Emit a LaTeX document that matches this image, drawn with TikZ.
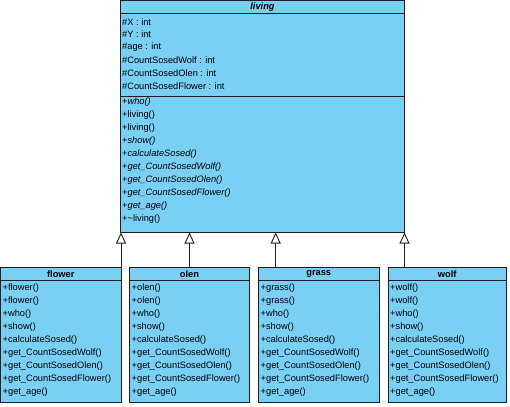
\documentclass[tikz,border=0pt]{standalone}
\usepackage{fontspec}
\setmainfont{Liberation Sans}
\usetikzlibrary{arrows.meta}
\definecolor{umlfill}{RGB}{122,207,245}
\definecolor{umlline}{RGB}{30,30,30}
\tikzset{
  x=1bp, y=-1bp,
  classbox/.style={draw=umlline, fill=umlfill, line width=0.9bp},
  sepline/.style={draw=umlline, line width=0.9bp},
  row/.style={anchor=west, inner sep=0pt, font=\fontsize{9.3}{11}\selectfont},
  ttl/.style={anchor=center, inner sep=0pt, font=\fontsize{9.3}{11}\selectfont\bfseries},
  inherit/.style={draw=umlline, line width=0.9bp, -{Triangle[open, width=10bp, length=11bp, fill=white]}}
}
\begin{document}
\begin{tikzpicture}
\useasboundingbox (0,0) rectangle (510,406);
% living
\path[classbox] (120.5,0.5) rectangle (404.5,232.5);
\draw[sepline] (120.5,13) -- (404.5,13);
\draw[sepline] (120.5,96.5) -- (404.5,96.5);
\node[ttl] (livingT) at (262.5,7) {\itshape living};
\coordinate (livingB) at (262.5,232.5);
\foreach \t [count=\i] in {\#X : int,\#Y : int,\#age : int,\#CountSosedWolf : int,\#CountSosedOlen : int,\#CountSosedFlower : int}
  \node[row] (la\i) at (122,{21.7+(\i-1)*12.9}) {\t};
\foreach \t/\s [count=\i] in {who()/\itshape,living()/,living()/,show()/\itshape,calculateSosed()/\itshape,get\_CountSosedWolf()/\itshape,get\_CountSosedOlen()/\itshape,get\_CountSosedFlower()/\itshape,get\_age()/\itshape,\textasciitilde living()/}
  \node[row] (lo\i) at (122,{102.3+(\i-1)*13}) {+{\s\t}};
% subclasses
\foreach \nm/\xl/\xr/\ax in {flower/0.5/121/121, olen/129.5/249.5/189.5, grass/258.5/379/275.7, wolf/388/506.5/404.5}{
  \path[classbox] (\xl,267) rectangle (\xr,402.5);
  \draw[sepline] (\xl,280) -- (\xr,280);
  \node[ttl] (\nm T) at ({(\xl+\xr)/2},274) {\nm};
  \foreach \t [count=\i] in {\nm(),\nm(),who(),show(),calculateSosed(),get\_CountSosedWolf(),get\_CountSosedOlen(),get\_CountSosedFlower(),get\_age()}
    \node[row] (\nm\i) at ({\xl+2},{288.3+(\i-1)*12.93}) {+\t};
  \coordinate (\nm Top) at (\ax,267);
  \coordinate (\nm Tip) at (\ax,232.5);
  \draw[inherit] (\nm Top) -- (\nm Tip);
}
\end{tikzpicture}
\end{document}
